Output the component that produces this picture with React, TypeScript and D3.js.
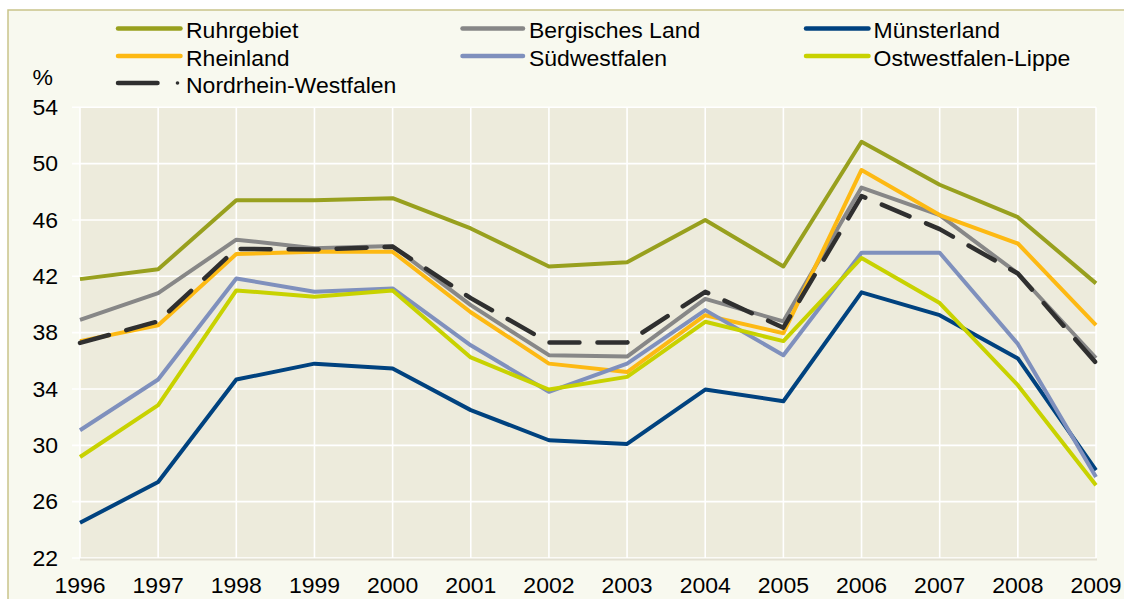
import React from "react";
import * as d3 from "d3";

const years = [1996, 1997, 1998, 1999, 2000, 2001, 2002, 2003, 2004, 2005, 2006, 2007, 2008, 2009];
const yTicks = [22, 26, 30, 34, 38, 42, 46, 50, 54];

const ruhrgebiet = [41.8, 42.5, 47.4, 47.4, 47.55, 45.4, 42.7, 43.0, 46.0, 42.7, 51.55, 48.5, 46.2, 41.5];
const bergischesLand = [38.9, 40.8, 44.6, 44.0, 44.15, 39.95, 36.4, 36.3, 40.4, 38.8, 48.3, 46.35, 42.2, 36.2];
const muensterland = [24.5, 27.4, 34.67, 35.8, 35.45, 32.5, 30.36, 30.1, 33.96, 33.13, 40.86, 39.24, 36.17, 28.23];
const rheinland = [37.4, 38.53, 43.58, 43.74, 43.74, 39.45, 35.8, 35.2, 39.24, 37.96, 49.55, 46.35, 44.33, 38.53];
const suedwestfalen = [31.07, 34.67, 41.85, 40.9, 41.14, 37.1, 33.8, 35.8, 39.6, 36.4, 43.67, 43.67, 37.2, 27.75];
const ostwestfalenLippe = [29.17, 32.85, 41.0, 40.55, 41.0, 36.24, 33.96, 34.86, 38.77, 37.4, 43.3, 40.1, 34.27, 27.16];
const nordrheinWestfalen = [37.27, 38.8, 43.95, 43.9, 44.1, 40.45, 37.3, 37.3, 40.9, 38.35, 47.7, 45.35, 42.2, 35.85];

const seriesNames = ["Ruhrgebiet", "Bergisches Land", "Münsterland", "Rheinland", "Südwestfalen", "Ostwestfalen-Lippe", "Nordrhein-Westfalen"];
const seriesValues = [ruhrgebiet, bergischesLand, muensterland, rheinland, suedwestfalen, ostwestfalenLippe, nordrheinWestfalen];
const seriesColors = ["#98a01e", "#878787", "#00427f", "#fdb913", "#7f90bd", "#c8d200", "#2f2f2f"];

const W = 1124;
const H = 599;
const left = 80;
const right = 1096;
const top = 107.3;
const bottom = 558;
const FONT = "'Liberation Sans', Arial, sans-serif";
const FS = 21.5;
const SX = 1.07;

function T({ x, y, anchor = "start", dy, children }: { x: number; y: number; anchor?: string; dy?: string; children: React.ReactNode }) {
  return (
    <text
      transform={`translate(${x},${y}) scale(${SX},1)`}
      textAnchor={anchor as any}
      dy={dy}
      fontSize={FS}
      fill="#000"
    >
      {children}
    </text>
  );
}

export default function App() {
  const x = d3.scaleLinear().domain([years[0], years[years.length - 1]]).range([left, right]);
  const y = d3.scaleLinear().domain([22, 54]).range([bottom, top]);
  const line = d3
    .line<number>()
    .x((_, i) => x(years[i]))
    .y((d) => y(d));

  const legendRows = [28.5, 56, 83];
  const legendCols = [
    { x1: 118, x2: 180.5, tx: 186 },
    { x1: 462.5, x2: 523, tx: 529 },
    { x1: 806, x2: 868.5, tx: 873.5 },
  ];

  return (
    <svg
      width={W}
      height={H}
      style={{ position: "absolute", left: 0, top: 0, fontFamily: FONT }}
    >
      <rect x={0} y={0} width={W} height={H} fill="#ffffff" />
      <rect x={8} y={10} width={W + 10} height={H + 10} fill="#f8f9ef" stroke="#c9c48a" strokeWidth={1.5} />
      <rect x={left} y={top} width={right - left} height={bottom - top} fill="#edebdc" />
      {yTicks.map((t) => (
        <line key={"h" + t} x1={left - 8} x2={right} y1={y(t)} y2={y(t)} stroke="#ffffff" strokeWidth={1.6} />
      ))}
      {years.map((yr) => (
        <line key={"v" + yr} x1={x(yr)} x2={x(yr)} y1={top} y2={bottom} stroke="#ffffff" strokeWidth={1.6} />
      ))}
      <line x1={left} x2={right + 1} y1={bottom + 1.5} y2={bottom + 1.5} stroke="#e3e0d2" strokeWidth={2} />
      {yTicks.map((t) => (
        <T key={"yl" + t} x={58} y={y(t)} dy="0.36em" anchor="end">
          {t}
        </T>
      ))}
      {years.map((yr) => (
        <T key={"xl" + yr} x={x(yr)} y={593} anchor="middle">
          {yr}
        </T>
      ))}
      <T x={32.5} y={85}>%</T>

      {seriesValues.map((vals, i) => {
        const isNRW = i === 6;
        return (
          <path
            key={"s" + i}
            d={line(vals) || ""}
            fill="none"
            stroke={seriesColors[i]}
            strokeWidth={isNRW ? 4.5 : 4}
            strokeLinejoin="round"
            strokeLinecap={isNRW ? "round" : "butt"}
            strokeDasharray={isNRW ? "30,18" : undefined}
          />
        );
      })}

      {seriesNames.map((name, i) => {
        const col = legendCols[i % 3];
        const ry = legendRows[Math.floor(i / 3)];
        const isNRW = i === 6;
        return (
          <g key={"lg" + i}>
            {isNRW ? (
              <>
                <line x1={col.x1} x2={157.5} y1={ry} y2={ry} stroke={seriesColors[i]} strokeWidth={4.5} strokeLinecap="round" />
                <circle cx={177.5} cy={ry} r={1.8} fill={seriesColors[i]} />
              </>
            ) : (
              <line x1={col.x1} x2={col.x2} y1={ry} y2={ry} stroke={seriesColors[i]} strokeWidth={4.5} strokeLinecap="round" />
            )}
            <T x={col.tx} y={ry + 9.5}>
              {name}
            </T>
          </g>
        );
      })}
    </svg>
  );
}
